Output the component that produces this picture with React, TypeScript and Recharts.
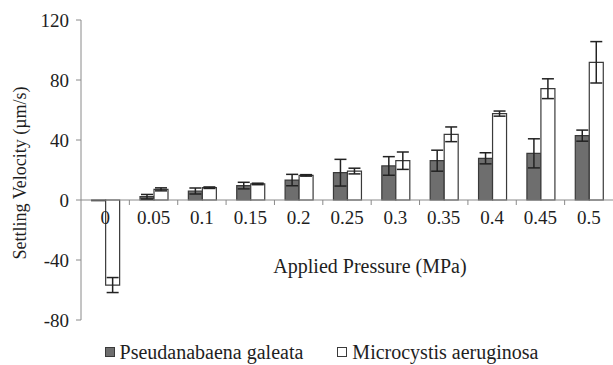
import React from "react";
import { BarChart, Bar, XAxis, YAxis, ErrorBar, ReferenceLine } from "recharts";

const categories = ["0", "0.05", "0.1", "0.15", "0.2", "0.25", "0.3", "0.35", "0.4", "0.45", "0.5"];
const pseudanabaena = [-0.5, 2.2, 6.0, 9.6, 13.3, 18.2, 22.7, 26.2, 27.8, 31.1, 42.9];
const pseudanabaenaErr = [0, 1.5, 2.0, 2.2, 3.8, 8.9, 6.2, 7.0, 3.7, 9.7, 3.7];
const microcystis = [-56.7, 7.1, 8.2, 10.7, 16.4, 19.3, 26.2, 43.8, 57.6, 74.2, 91.8];
const microcystisErr = [5.0, 1.0, 0.5, 0.5, 0.5, 1.9, 5.8, 4.9, 1.7, 6.6, 13.8];
const yTicks = [-80, -40, 0, 40, 80, 120];

const W = 613;
const H = 365;
const TOP = 20;
const BOTTOM = 45;
const LEFT = 81;
const RIGHT = 0;
const Y_MIN = -80;
const Y_MAX = 120;
const PLOT_H = H - TOP - BOTTOM;
const ZERO_Y = TOP + (PLOT_H * Y_MAX) / (Y_MAX - Y_MIN);
const FONT = "Times New Roman, Tinos, Liberation Serif, Noto Serif, DejaVu Serif, serif";
const TEXT = "#1e1e1e";
const AXIS = "#8a8a8a";

const data = categories.map((c, i) => ({
  pressure: c,
  pseudanabaena: pseudanabaena[i],
  pseudanabaenaErr: pseudanabaenaErr[i],
  microcystis: microcystis[i],
  microcystisErr: microcystisErr[i],
}));

const CategoryTick = (props: any) => {
  const { x, payload, index } = props;
  const half = payload.offset ?? (W - LEFT - RIGHT) / categories.length / 2;
  return (
    <g>
      <text x={x} y={ZERO_Y + 24} textAnchor="middle" fill={TEXT} style={{ fontSize: 19, fontFamily: FONT }}>
        {payload.value}
      </text>
      {index > 0 && <line x1={x - half} x2={x - half} y1={ZERO_Y} y2={ZERO_Y + 5} stroke={AXIS} />}
    </g>
  );
};

const XTitle = (props: any) => {
  const vb = props.viewBox;
  return (
    <text
      x={vb.x + vb.width / 2 + 23}
      y={ZERO_Y + 73}
      textAnchor="middle"
      fill={TEXT}
      style={{ fontSize: 20, fontFamily: FONT }}
    >
      Applied Pressure (MPa)
    </text>
  );
};

const YTitle = () => {
  const cx = 20;
  const cy = 173;
  return (
    <text
      x={cx}
      y={cy}
      transform={`rotate(-90, ${cx}, ${cy})`}
      textAnchor="middle"
      dominantBaseline="central"
      fill={TEXT}
      style={{ fontSize: 18, fontFamily: FONT }}
    >
      Settling Velocity (µm/s)
    </text>
  );
};

const legendItems = [
  { name: "Pseudanabaena galeata", fill: "#6e6e6e", stroke: "#3a3a3a" },
  { name: "Microcystis aeruginosa", fill: "#ffffff", stroke: "#3a3a3a" },
];

export default function App() {
  return (
    <div style={{ position: "absolute", left: 0, top: 0, width: W, height: H, background: "#fff", fontFamily: FONT }}>
      <BarChart
        width={W}
        height={H}
        data={data}
        margin={{ top: TOP, right: RIGHT, bottom: 0, left: 0 }}
        barCategoryGap="22%"
        barGap={0}
      >
        <XAxis
          dataKey="pressure"
          height={BOTTOM}
          axisLine={false}
          tickLine={false}
          tick={<CategoryTick />}
          interval={0}
          label={{ content: <XTitle /> }}
        />
        <YAxis
          width={LEFT}
          domain={[Y_MIN, Y_MAX]}
          ticks={yTicks}
          interval={0}
          stroke={AXIS}
          tickSize={5}
          tick={{ fill: TEXT, fontSize: 19, dx: -5, style: { fontFamily: FONT } }}
          label={{ content: <YTitle /> }}
        />
        <ReferenceLine y={0} stroke={AXIS} />
        <Bar dataKey="pseudanabaena" fill="#6e6e6e" stroke="#3a3a3a" strokeWidth={1.2} isAnimationActive={false}>
          <ErrorBar dataKey="pseudanabaenaErr" width={6} stroke="#222" strokeWidth={1.5} />
        </Bar>
        <Bar dataKey="microcystis" fill="#ffffff" stroke="#3a3a3a" strokeWidth={1.2} isAnimationActive={false}>
          <ErrorBar dataKey="microcystisErr" width={6} stroke="#222" strokeWidth={1.5} />
        </Bar>
      </BarChart>
      <div
        style={{
          position: "absolute",
          top: 340,
          left: 30,
          width: W - 30,
          display: "flex",
          justifyContent: "center",
          gap: 34,
          fontSize: 20,
          lineHeight: "24px",
          color: TEXT,
        }}
      >
        {legendItems.map((it) => (
          <div key={it.name} style={{ display: "flex", alignItems: "center", gap: 5 }}>
            <span style={{ width: 8, height: 8, background: it.fill, border: `1px solid ${it.stroke}` }} />
            <span>{it.name}</span>
          </div>
        ))}
      </div>
    </div>
  );
}
